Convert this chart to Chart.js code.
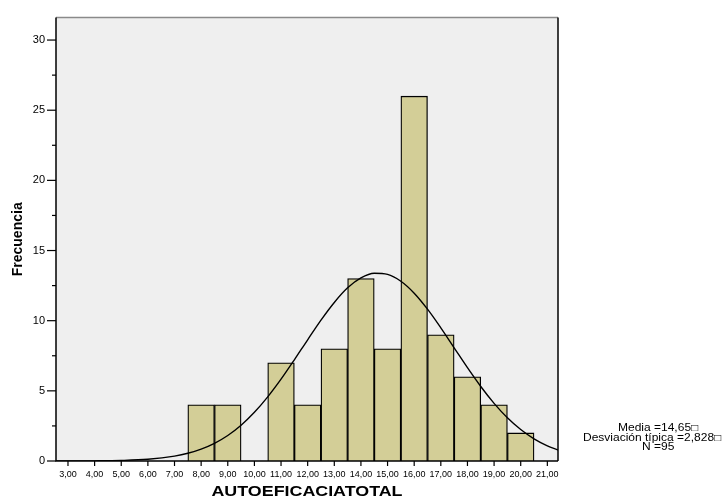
<!DOCTYPE html>
<html>
<head>
<meta charset="utf-8">
<script src="https://cdn.jsdelivr.net/npm/chart.js@4.4.0/dist/chart.umd.min.js"></script>
<style>
  html, body { margin: 0; padding: 0; background: #fff; }
  #wrap { width: 727px; height: 498px; }
</style>
</head>
<body>
<div id="wrap"><canvas id="histo" width="727" height="498"></canvas></div>
<script>
// --- Datos del histograma ---
const clases = [8, 9, 11, 12, 13, 14, 15, 16, 17, 18, 19, 20];
const frecuencias = [4, 4, 7, 4, 8, 13, 8, 26, 9, 6, 4, 2];

// curva normal superpuesta, punto a punto
const curvaX = [2.55, 3, 4, 5, 6, 7, 7.5, 8, 8.5, 9, 9.5, 10, 10.5, 11, 11.5, 12, 12.5, 13, 13.5, 14, 14.5, 15, 15.5, 16, 16.5, 17, 17.5, 18, 18.5, 19, 19.5, 20, 20.5, 21, 21.4];
const curvaY = [0, 0.003, 0.011, 0.04, 0.125, 0.35, 0.55, 0.85, 1.26, 1.82, 2.55, 3.47, 4.57, 5.83, 7.21, 8.64, 10.04, 11.3, 12.34, 13.05, 13.38, 13.3, 12.81, 11.96, 10.82, 9.49, 8.07, 6.65, 5.31, 4.11, 3.08, 2.24, 1.58, 1.08, 0.78];

// marcas de los ejes
const ticksX = [3, 4, 5, 6, 7, 8, 9, 10, 11, 12, 13, 14, 15, 16, 17, 18, 19, 20, 21];
const ticksY = [0, 5, 10, 15, 20, 25, 30];
const menoresY = [2.5, 7.5, 12.5, 17.5, 22.5, 27.5];

const tituloX = "AUTOEFICACIATOTAL";
const tituloY = "Frecuencia";
const resumen = ["Media =14,65\u25A1", "Desviaci\u00f3n t\u00edpica =2,828\u25A1", "N =95"];

Chart.defaults.font.family = "'Liberation Sans', Arial, sans-serif";
Chart.defaults.color = "#000";

function formatoX(v) {
  return v.toFixed(2).replace(".", ",");
}

// texto ensanchado en horizontal
function textoEstirado(ctx, txt, x, y, sx, align) {
  ctx.save();
  ctx.translate(x, y);
  ctx.scale(sx, 1);
  ctx.textAlign = align;
  ctx.fillText(txt, 0, 0);
  ctx.restore();
}

// --- Fondo, marco, marcas y textos ---
const marco = {
  id: "marco",
  beforeDraw(chart) {
    const { ctx, chartArea: a } = chart;
    ctx.save();
    ctx.fillStyle = "#efefef";
    ctx.fillRect(a.left, a.top, a.right - a.left, a.bottom - a.top);
    ctx.restore();
  },
  afterDraw(chart) {
    const { ctx, chartArea: a, scales } = chart;
    const sx = scales.x, sy = scales.y;
    ctx.save();
    ctx.lineWidth = 1.5;
    ctx.strokeStyle = "#8a8a8a";
    ctx.beginPath(); ctx.moveTo(a.left, a.top); ctx.lineTo(a.right, a.top); ctx.stroke();
    ctx.strokeStyle = "#000";
    ctx.beginPath(); ctx.moveTo(a.right, a.top); ctx.lineTo(a.right, a.bottom); ctx.stroke();
    ctx.beginPath();
    ctx.moveTo(a.left, a.top); ctx.lineTo(a.left, a.bottom); ctx.lineTo(a.right, a.bottom);
    ctx.stroke();

    // marcas del eje Y
    ctx.lineWidth = 1.2;
    ticksY.forEach(v => {
      const y = sy.getPixelForValue(v);
      ctx.beginPath(); ctx.moveTo(a.left - 9, y); ctx.lineTo(a.left, y); ctx.stroke();
    });
    menoresY.forEach(v => {
      const y = sy.getPixelForValue(v);
      ctx.beginPath(); ctx.moveTo(a.left - 4, y); ctx.lineTo(a.left, y); ctx.stroke();
    });
    // marcas del eje X
    ticksX.forEach(v => {
      const x = sx.getPixelForValue(v);
      ctx.beginPath(); ctx.moveTo(x, a.bottom); ctx.lineTo(x, a.bottom + 5); ctx.stroke();
    });

    // títulos
    ctx.fillStyle = "#000";
    ctx.font = "bold 15px 'Liberation Sans', Arial, sans-serif";
    ctx.textBaseline = "alphabetic";
    textoEstirado(ctx, tituloX, (a.left + a.right) / 2, 495.5, 1.19, "center");

    ctx.save();
    ctx.translate(18, (a.top + a.bottom) / 2);
    ctx.rotate(-Math.PI / 2);
    ctx.font = "bold 14px 'Liberation Sans', Arial, sans-serif";
    ctx.textAlign = "center";
    ctx.textBaseline = "middle";
    ctx.fillText(tituloY, 0, 0);
    ctx.restore();

    // resumen estadístico
    ctx.font = "10px 'Liberation Sans', Arial, sans-serif";
    ctx.textBaseline = "middle";
    const izq = [618, 583, 642];
    const alt = [428, 438, 447];
    resumen.forEach((t, i) => textoEstirado(ctx, t, izq[i], alt[i], 1.2, "left"));
    ctx.restore();
  }
};

const ctx = document.getElementById("histo");
new Chart(ctx, {
  data: {
    datasets: [
      {
        type: "line",
        data: curvaX.map((x, i) => ({ x, y: curvaY[i] })),
        borderColor: "#000",
        borderWidth: 1.4,
        pointRadius: 0,
        fill: false,
        cubicInterpolationMode: "monotone",
        order: 0
      },
      {
        type: "bar",
        data: clases.map((x, i) => ({ x, y: frecuencias[i] })),
        backgroundColor: "#d3ce97",
        borderColor: "#000",
        borderWidth: 1.3,
        barPercentage: 1,
        categoryPercentage: 1,
        grouped: false,
        order: 1
      }
    ]
  },
  options: {
    responsive: false,
    animation: false,
    layout: { padding: { left: 0, right: 169, top: 16, bottom: 0 } },
    plugins: {
      legend: { display: false },
      tooltip: { enabled: false }
    },
    scales: {
      x: {
        type: "linear",
        offset: false,
        min: 2.55,
        max: 21.4,
        grid: { display: false, drawTicks: false },
        border: { display: false },
        afterBuildTicks: s => { s.ticks = ticksX.map(v => ({ value: v })); },
        afterFit: s => { s.height = 37; },
        ticks: {
          autoSkip: false,
          maxRotation: 0,
          padding: 8,
          font: { size: 9 },
          callback: v => formatoX(v)
        }
      },
      y: {
        min: 0,
        max: 31.6,
        grid: { display: false, drawTicks: false },
        border: { display: false },
        afterBuildTicks: s => { s.ticks = ticksY.map(v => ({ value: v })); },
        afterFit: s => { s.width = 56; },
        ticks: {
          padding: 11,
          font: { size: 11 },
          callback: v => String(v)
        }
      }
    }
  },
  plugins: [marco]
});
</script>
</body>
</html>
